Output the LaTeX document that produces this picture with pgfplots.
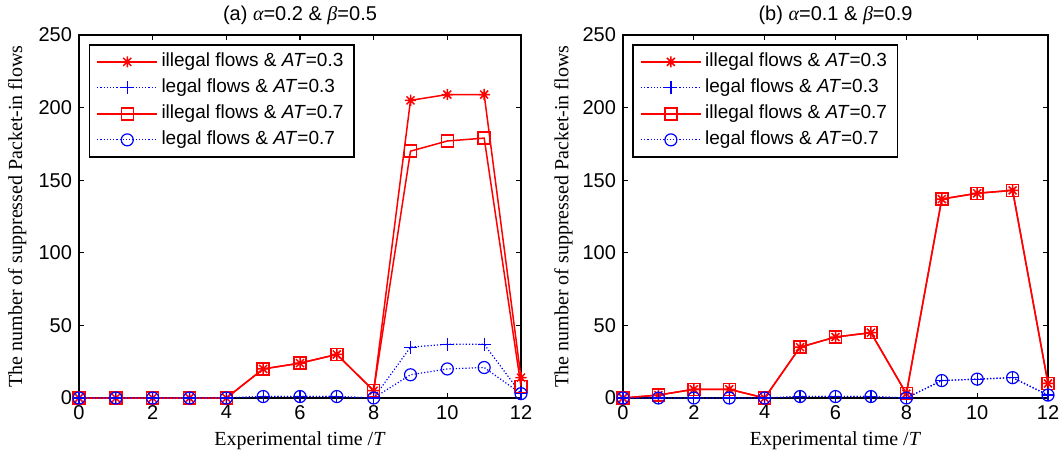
\documentclass[border=0pt]{standalone}
\usepackage{fontspec}
\setmainfont{Liberation Sans}
\newfontfamily\serif{Liberation Serif}
\usepackage{pgfplots}
\pgfplotsset{compat=1.18}

% MATLAB-like '*' marker: four strokes
\pgfdeclareplotmark{mstar}{%
  \pgfpathmoveto{\pgfqpoint{\pgfplotmarksize}{0pt}}%
  \pgfpathlineto{\pgfqpoint{-\pgfplotmarksize}{0pt}}%
  \pgfpathmoveto{\pgfqpoint{0pt}{\pgfplotmarksize}}%
  \pgfpathlineto{\pgfqpoint{0pt}{-\pgfplotmarksize}}%
  \pgfpathmoveto{\pgfqpoint{0.707\pgfplotmarksize}{0.707\pgfplotmarksize}}%
  \pgfpathlineto{\pgfqpoint{-0.707\pgfplotmarksize}{-0.707\pgfplotmarksize}}%
  \pgfpathmoveto{\pgfqpoint{-0.707\pgfplotmarksize}{0.707\pgfplotmarksize}}%
  \pgfpathlineto{\pgfqpoint{0.707\pgfplotmarksize}{-0.707\pgfplotmarksize}}%
  \pgfusepathqstroke}

\newcommand{\fs}{\fontsize{10}{12}\selectfont}
\newcommand{\fl}{\fontsize{9.5}{11.5}\selectfont}

\pgfplotsset{
  panel/.style={
    scale only axis, height=181.5pt,
    xmin=0, xmax=12, ymin=0, ymax=250,
    xtick={0,2,...,12}, ytick={0,50,...,250},
    tick align=inside, major tick length=2.5pt,
    tick style={black, line width=0.6pt},
    axis line style={black, line width=0.8pt},
    ticklabel style={font=\fs},
    /pgf/number format/assume math mode=true,
    xlabel={\serif Experimental time /\textit{T}},
    ylabel={\serif The number of suppressed Packet-in flows},
    xlabel style={font=\fs, at={(axis description cs:0.5,0)}, anchor=base, yshift=-23.5pt},
    ylabel style={font=\fs, at={(axis description cs:-0.14,0.5)}, anchor=center},
    title style={font=\fs, at={(axis description cs:0.5,1)}, anchor=base, yshift=1pt},
    legend style={at={(0.022,0.975)}, anchor=north west, draw=black,
      line width=0.8pt, font=\fl, inner xsep=3.5pt, inner ysep=2pt,
      nodes={inner xsep=1.75pt, inner ysep=1.5pt, text height=7.5pt, text depth=2.5pt}},
    legend cell align=left,
    legend image code/.code={\draw[mark repeat=2, mark phase=2, ##1]
      plot coordinates {(0pt,0pt) (15pt,0pt) (30pt,0pt)};},
    clip=false,
  },
  illeg/.style={red, line width=0.75pt, solid},
  leg/.style={blue, line width=0.6pt, densely dotted, mark options={solid}},
}

\begin{document}
\begin{tikzpicture}
\useasboundingbox (0,0) rectangle (529.5pt,227.5pt);

\begin{axis}[panel, width=221pt, at={(39.5pt,28.5pt)}, anchor=south west,
  title={(a) {\serif\itshape α}=0.2 \& {\serif\itshape β}=0.5}]
\addplot[illeg, mark=mstar, mark size=2.8pt] coordinates {
  (0,0) (1,0) (2,0) (3,0) (4,0) (5,20) (6,24) (7,30) (8,5)
  (9,205) (10,209) (11,209) (12,14)};
\addlegendentry{illegal flows \& \textit{AT}=0.3}
\addplot[leg, mark=+, mark size=3.2pt] coordinates {
  (0,0) (1,0) (2,0) (3,0) (4,0) (5,1) (6,1) (7,1) (8,0)
  (9,35) (10,37) (11,37) (12,3)};
\addlegendentry{legal flows \& \textit{AT}=0.3}
\addplot[illeg, mark=square, mark size=3pt] coordinates {
  (0,0) (1,0) (2,0) (3,0) (4,0) (5,20) (6,24) (7,30) (8,5)
  (9,170) (10,177) (11,179) (12,8)};
\addlegendentry{illegal flows \& \textit{AT}=0.7}
\addplot[leg, mark=o, mark size=3pt] coordinates {
  (0,0) (1,0) (2,0) (3,0) (4,0) (5,1) (6,1) (7,1) (8,0)
  (9,16) (10,20) (11,21) (12,3)};
\addlegendentry{legal flows \& \textit{AT}=0.7}
\end{axis}

\begin{axis}[panel, width=212.5pt, at={(311.5pt,28.5pt)}, anchor=south west,
  title={(b) {\serif\itshape α}=0.1 \& {\serif\itshape β}=0.9}]
\addplot[illeg, mark=mstar, mark size=2.8pt] coordinates {
  (0,0) (1,2) (2,6) (3,6) (4,0) (5,35) (6,42) (7,45) (8,3)
  (9,137) (10,141) (11,143) (12,10)};
\addlegendentry{illegal flows \& \textit{AT}=0.3}
\addplot[leg, mark=+, mark size=3.2pt] coordinates {
  (0,0) (1,0) (2,0) (3,0) (4,0) (5,1) (6,1) (7,1) (8,0)
  (9,12) (10,13) (11,14) (12,2)};
\addlegendentry{legal flows \& \textit{AT}=0.3}
\addplot[illeg, mark=square, mark size=3pt] coordinates {
  (0,0) (1,2) (2,6) (3,6) (4,0) (5,35) (6,42) (7,45) (8,3)
  (9,137) (10,141) (11,143) (12,10)};
\addlegendentry{illegal flows \& \textit{AT}=0.7}
\addplot[leg, mark=o, mark size=3pt] coordinates {
  (0,0) (1,0) (2,0) (3,0) (4,0) (5,1) (6,1) (7,1) (8,0)
  (9,12) (10,13) (11,14) (12,2)};
\addlegendentry{legal flows \& \textit{AT}=0.7}
\end{axis}
\end{tikzpicture}
\end{document}
